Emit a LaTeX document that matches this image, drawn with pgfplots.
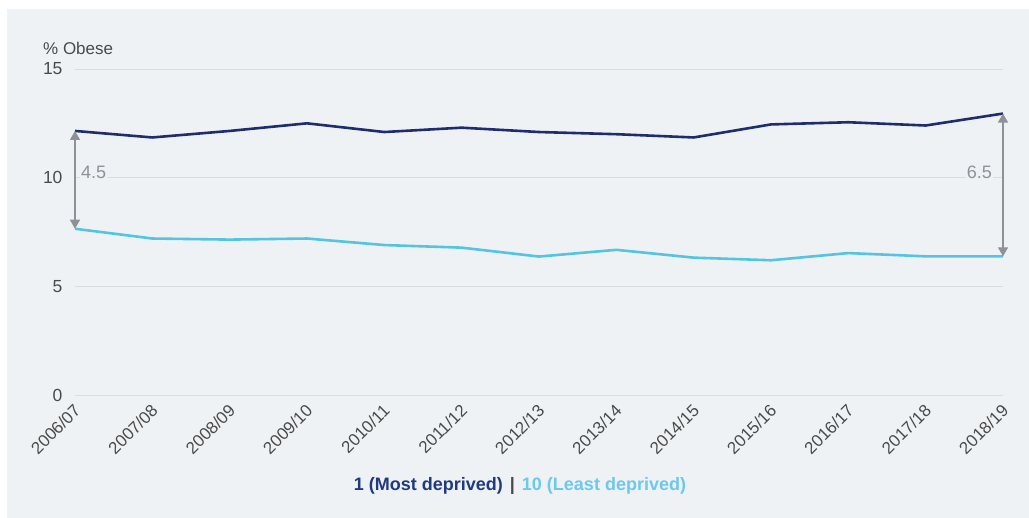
\documentclass[border=0pt]{standalone}
\usepackage{pgfplots}
\pgfplotsset{compat=1.18}
\usepackage{fontspec}
\setmainfont{Liberation Sans}
\usetikzlibrary{arrows.meta}
\definecolor{panel}{HTML}{EFF2F5}
\definecolor{navy}{HTML}{1F2C6E}
\definecolor{lightb}{HTML}{55C4E2}
\definecolor{legnavy}{HTML}{1F3A80}
\definecolor{leglight}{HTML}{6CC8EC}
\definecolor{gridc}{HTML}{D9DDE2}
\definecolor{arrowc}{HTML}{8E9196}
\definecolor{tickc}{HTML}{4A4A4A}
\begin{document}
\begin{tikzpicture}
\fill[white] (0,0) rectangle (1029bp,518bp);
\fill[panel] (7bp,0) rectangle (1029bp,509bp);
\path[use as bounding box] (0,0) rectangle (1029bp,518bp);
\begin{axis}[
  at={(75bp,123bp)}, anchor=south west,
  scale only axis,
  width=928bp, height=326bp,
  xmin=0, xmax=12, ymin=0, ymax=15,
  ytick={0,5,10,15},
  xtick={0,...,12},
  xticklabels={2006/07,2007/08,2008/09,2009/10,2010/11,2011/12,2012/13,2013/14,2014/15,2015/16,2016/17,2017/18,2018/19},
  axis line style={draw=none},
  major tick length=0pt,
  ymajorgrids,
  grid style={gridc, line width=0.8bp},
  /pgf/number format/assume math mode=true,
  yticklabel style={font=\fontsize{17.5bp}{20bp}\selectfont, text=tickc, xshift=-9bp},
  xticklabel style={font=\fontsize{17bp}{19bp}\selectfont, text=tickc, rotate=45, anchor=north east, inner sep=1bp, yshift=-3bp, xshift=-6bp},
  clip=false,
]
\addplot[navy, line width=2.6bp] coordinates {
(0,12.15) (1,11.85) (2,12.15) (3,12.5) (4,12.1) (5,12.3) (6,12.1) (7,12.0) (8,11.85) (9,12.45) (10,12.55) (11,12.4) (12,12.95)};
\addplot[lightb, line width=2.6bp] coordinates {
(0,7.65) (1,7.2) (2,7.15) (3,7.2) (4,6.9) (5,6.78) (6,6.37) (7,6.68) (8,6.32) (9,6.2) (10,6.53) (11,6.38) (12,6.38)};
\addplot[arrowc, line width=1.3bp, {Triangle[width=10bp,length=9bp]}-{Triangle[width=10bp,length=9bp]}] coordinates {(0,12.15) (0,7.65)};
\addplot[arrowc, line width=1.3bp, {Triangle[width=10bp,length=9bp]}-{Triangle[width=10bp,length=9bp]}] coordinates {(12,12.95) (12,6.38)};
\node[anchor=west, fill=panel, inner sep=1bp, text=arrowc, font=\fontsize{18bp}{20bp}\selectfont] at (axis cs:0,10.25) [xshift=5bp] {4.5};
\node[anchor=east, fill=panel, inner sep=1bp, text=arrowc, font=\fontsize{18bp}{20bp}\selectfont] at (axis cs:12,10.25) [xshift=-10bp] {6.5};
\node[anchor=west, text=tickc, font=\fontsize{17bp}{20bp}\selectfont, inner sep=0pt] at (axis description cs:-0.0345,1.064) {\% Obese};
\node[font=\bfseries\fontsize{18bp}{20bp}\selectfont] at (axis description cs:0.4795,-0.279) {\textcolor{legnavy}{1 (Most deprived)}\hspace{7bp}\textcolor{tickc}{|}\hspace{7bp}\textcolor{leglight}{10 (Least deprived)}};
\end{axis}
\end{tikzpicture}
\end{document}
